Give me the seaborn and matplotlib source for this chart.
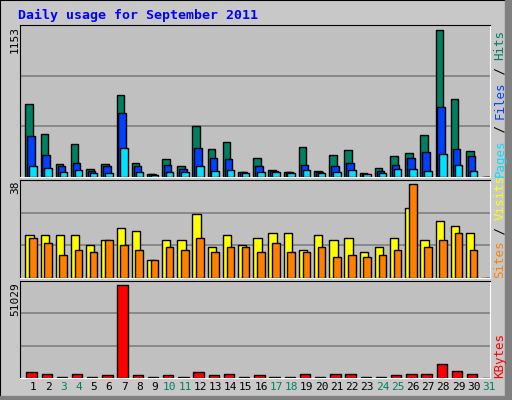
import matplotlib
matplotlib.use("Agg")
import matplotlib.pyplot as plt
import seaborn as sns
import numpy as np
import pandas as pd
from matplotlib.patches import Rectangle

days = list(range(1, 32))
hits = [557,329,101,253,63,101,625,109,25,139,86,390,215,268,40,147,56,40,230,48,170,207,33,71,162,185,321,1118,595,200,0]
files = [314,170,81,109,48,81,488,81,20,94,63,223,147,139,35,81,43,35,94,38,86,109,25,48,94,147,192,534,215,162,0]
pages = [81,66,35,51,28,28,218,35,18,35,35,86,43,51,28,35,38,28,51,33,40,51,20,28,58,58,48,177,94,48,0]
visits = [16.7,16.7,16.7,16.7,12.8,14.7,19.5,18.3,6.8,14.7,14.7,25,12,16.7,12.8,15.5,17.5,17.5,10.8,16.7,14.7,15.5,10,12,15.5,27,14.7,22.2,20.3,17.5,0]
sites = [15.5,13.5,8.8,10.8,10,14.7,12.8,10.8,6.8,12,10.8,15.5,10,12,12,10,13.5,10,10,12,8,8.8,8,8.8,10.8,36.4,12,14.7,17.5,10.8,0]
kbytes = [3400,2300,700,2300,700,1400,49000,1400,700,1400,700,2900,1400,2300,700,1400,700,700,2000,700,2000,2000,700,700,1400,2000,2300,7200,3900,2000,0]
weekend = [3,4,10,11,17,18,24,25,31]
max_hits, max_visits, max_kb = 1153, 38, 51029
title = "Daily usage for September 2011"

W, H = 512, 400
fig = plt.figure(figsize=(W/100, H/100), dpi=100)
fig.patch.set_facecolor("#C8C8C8")
mono = "DejaVu Sans Mono"

def ax_at(x0, y0, x1, y1):
    return fig.add_axes([x0/W, 1-y1/H, (x1-x0)/W, (y1-y0)/H])

def series(ax, vals, off, width, color):
    df = pd.DataFrame({"x": np.array(days) + off, "y": vals})
    sns.barplot(data=df, x="x", y="y", native_scale=True, width=width, color=color,
                edgecolor="black", linewidth=1, saturation=1, ax=ax)

def style(ax, ymax):
    ax.set_facecolor("#C0C0C0")
    ax.set_xlim(0.145, 31.07)
    ax.set_ylim(0, ymax)
    for g in (ymax/3, 2*ymax/3):
        ax.axhline(g, color="#808080", lw=1.2, zorder=0)
    ax.set_xticks([]); ax.set_yticks([])
    ax.set_xlabel(""); ax.set_ylabel("")
    for s in ("left", "top"):
        ax.spines[s].set_color("black")
    for s in ("right", "bottom"):
        ax.spines[s].set_color("white")
    ax.set_axisbelow(True)

a1 = ax_at(20, 25, 490, 177)
series(a1, hits, -0.26, 0.49, "#008060")
series(a1, files, -0.14, 0.49, "#0040FF")
series(a1, pages, -0.01, 0.49, "#00E0FF")
style(a1, max_hits)

a2 = ax_at(20, 180, 490, 278)
series(a2, visits, -0.23, 0.55, "#FFFF00")
series(a2, sites, -0.01, 0.5, "#FF8000")
style(a2, max_visits)

a3 = ax_at(20, 281, 490, 378)
series(a3, kbytes, -0.1, 0.68, "#FF0000")
style(a3, max_kb)

# labels
fig.text(18/W, 1-15/H, title, color="#0000FF", fontsize=9.5, fontweight="bold", family=mono, va="center")
for y, t in ((26, str(max_hits)), (181, str(max_visits)), (282, str(max_kb))):
    fig.text(15/W, 1-y/H, t, rotation=90, fontsize=8, family=mono, ha="center", va="top")
for d in days:
    c = "#008060" if d in weekend else "black"
    a3.text(d, -0.045, str(d), transform=a3.get_xaxis_transform(), ha="center", va="top",
            fontsize=8, family=mono, color=c)

def rlabel(y_bottom, parts):
    y = y_bottom
    for t, c in parts:
        fig.text(500/W, 1-y/H, t, rotation=90, fontsize=9, family=mono, color=c, ha="center", va="bottom")
        y -= len(t) * 7.3
rlabel(177, [("Pages", "#00E0FF"), (" / ", "black"), ("Files", "#0040FF"), (" / ", "black"), ("Hits", "#008060")])
rlabel(278, [("Sites", "#FF8000"), (" / ", "black"), ("Visits", "#FFFF00")])
rlabel(378, [("KBytes", "#FF0000")])

# frame
fig.patches.append(Rectangle((0, 0), 1, 1, transform=fig.transFigure, fill=False, edgecolor="black", lw=1.5))
fig.patches.append(Rectangle((505/W, 0), 7/W, 1, transform=fig.transFigure, color="#808080"))
fig.patches.append(Rectangle((0, 0), 1, 4/H, transform=fig.transFigure, color="#808080"))

fig.savefig("out.png", dpi=100, facecolor=fig.get_facecolor())
